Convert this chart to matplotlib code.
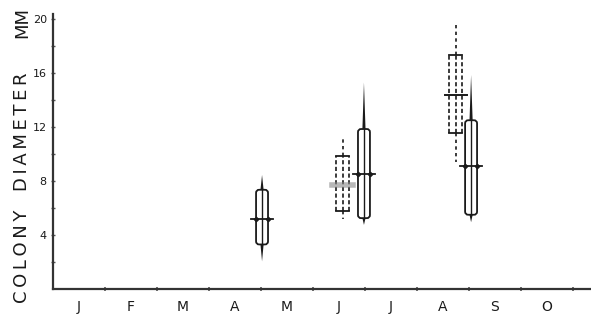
import matplotlib.pyplot as plt
import numpy as np
from matplotlib.patches import FancyBboxPatch

months = ['J', 'F', 'M', 'A', 'M', 'J', 'J', 'A', 'S', 'O']

# solid bars: sample position (in months), mean, box range, full range
solid_pos = [4.02, 5.98, 8.04]
solid_mean = [5.2, 8.5, 9.1]
solid_lo = [3.3, 5.25, 5.5]
solid_hi = [7.35, 11.85, 12.5]
solid_min = [2.05, 4.75, 4.95]
solid_max = [8.45, 15.3, 15.85]

# dashed bars
dash_pos = [5.57, 7.75]
dash_mean = [7.7, 14.4]
dash_lo = [5.8, 11.55]
dash_hi = [9.85, 17.3]
dash_min = [5.2, 9.4]
dash_max = [11.2, 19.6]

ink = '#1a1a1a'

fig = plt.figure(figsize=(5.91, 3.21), dpi=100)
ax = fig.add_axes([53/591, 32/321, 538/591, 275/321])
ax.set_xlim(0, 538/52)
ax.set_ylim(0, 275/13.5)

for s in ['top', 'right']:
    ax.spines[s].set_visible(False)
for s in ['left', 'bottom']:
    ax.spines[s].set_color('#333333')
    ax.spines[s].set_linewidth(1.6)

ax.set_xticks(np.arange(len(months)) + 0.5)
ax.set_xticklabels(months, fontsize=10, color=ink)
ax.set_xticks(np.arange(1, 11), minor=True)
ax.tick_params(axis='x', which='major', length=0, pad=8)
ax.tick_params(axis='x', which='minor', length=2.5, width=1.2, direction='inout', color='#555555')

ax.set_yticks([4, 8, 12, 16, 20])
ax.set_yticklabels(['4', '8', '12', '16', '20'], fontsize=8, color=ink)
ax.set_yticks([2, 6, 10, 14, 18], minor=True)
ax.tick_params(axis='y', which='both', length=3, width=1.0, direction='inout', color='#555555', pad=3)

sw = 0.23
mut = (1/13.5) / (1/52)
for x, m, lo, hi, mn, mx in zip(solid_pos, solid_mean, solid_lo, solid_hi, solid_min, solid_max):
    box = FancyBboxPatch((x - sw/2, lo), sw, hi - lo,
                         boxstyle='round,pad=0,rounding_size=0.06',
                         mutation_aspect=mut, fill=False, ec=ink, lw=1.3)
    ax.add_patch(box)
    ax.plot([x, x], [lo, hi], color=ink, lw=1.0)
    # needle spikes out to the extremes
    ax.fill([x - 0.03, x + 0.03, x], [hi, hi, mx], color=ink, lw=0)
    ax.fill([x - 0.03, x + 0.03, x], [lo, lo, mn], color=ink, lw=0)
    ax.plot([x - 0.21, x + 0.21], [m, m], color=ink, lw=1.3)
    ax.plot([x - sw/2, x + sw/2], [m, m], ls='none', marker='D', ms=2.2, color=ink)

dw = 0.25
for i, (x, m, lo, hi, mn, mx) in enumerate(zip(dash_pos, dash_mean, dash_lo, dash_hi, dash_min, dash_max)):
    for dx in (-dw/2, 0, dw/2):
        ax.plot([x + dx, x + dx], [lo, hi], color=ink, lw=1.2, ls=(0, (2.5, 1.5)))
    ax.plot([x - dw/2, x + dw/2], [hi, hi], color=ink, lw=1.3)
    ax.plot([x - dw/2, x + dw/2], [lo, lo], color=ink, lw=1.3)
    ax.plot([x, x], [hi, mx], color=ink, lw=1.2, ls=(0, (2, 2)))
    ax.plot([x, x], [lo, mn], color=ink, lw=1.2, ls=(0, (2, 2)))
    if i == 0:
        ax.plot([x - 0.2, x + 0.2], [m, m], color='#888888', lw=4, alpha=0.6)
    else:
        ax.plot([x - 0.21, x + 0.21], [m, m], color=ink, lw=1.4)

ts = '\u2009'
fig.text(22/591, 1 - 256/321, ts.join('COLONY'), rotation=90, ha='center', va='center', fontsize=13, color=ink)
fig.text(22/591, 1 - 132/321, ts.join('DIAMETER'), rotation=90, ha='center', va='center', fontsize=13, color=ink)
fig.text(22/591, 1 - 22/321, 'MM', rotation=90, ha='center', va='center', fontsize=13, color=ink)

fig.savefig('out.png', dpi=100)
